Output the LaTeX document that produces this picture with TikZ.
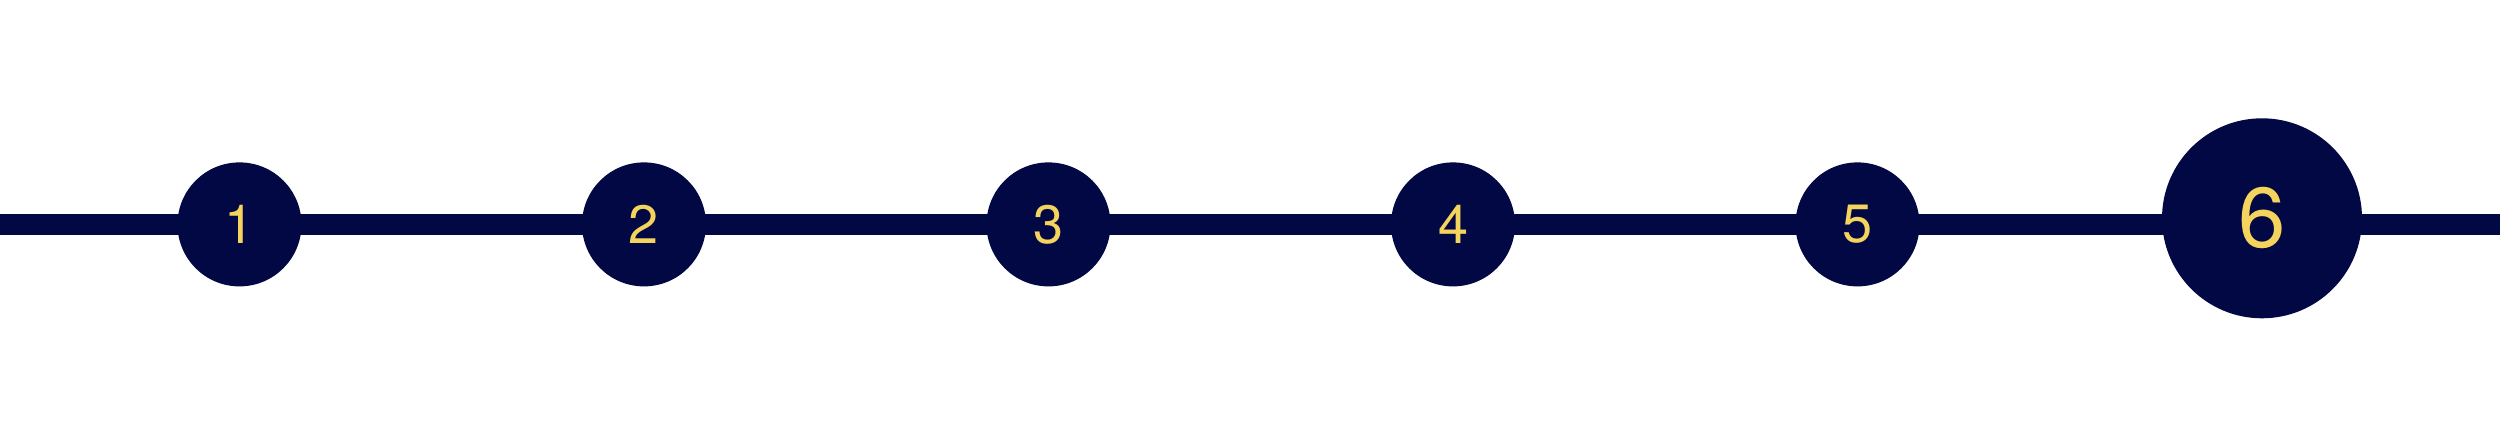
\documentclass[tikz,border=0pt]{standalone}
\usepackage{fontspec}
\setmainfont{TeX Gyre Heros}
\usetikzlibrary{backgrounds}
\definecolor{navy}{RGB}{1,8,68}
\definecolor{gold}{RGB}{245,212,94}
\begin{document}
\begin{tikzpicture}[x=1pt,y=1pt,
  stepdot/.style={circle,fill=navy,draw=none,inner sep=0pt,outer sep=0pt,
    minimum size=124pt,text=gold,font=\fontsize{54}{60}\selectfont},
  bigdot/.style={stepdot,minimum size=200pt,font=\fontsize{85}{96}\selectfont},
  track/.style={draw=navy,line width=20.3pt}]
\useasboundingbox (0,0) rectangle (2500,421);
\coordinate (L) at (0,196.6);
\coordinate (R) at (2500,196.6);
\node[stepdot] (c1) at (239.5,196.6) {1};
\node[stepdot] (c2) at (644,196.6) {2};
\node[stepdot] (c3) at (1048.5,196.6) {3};
\node[stepdot] (c4) at (1453,196.6) {4};
\node[stepdot] (c5) at (1857.5,196.6) {5};
\node[bigdot] (c6) at (2262,202.7) {6};
\begin{scope}[on background layer]
\fill[white] (0,0) rectangle (2500,421);
\draw[track] (L) -- (c1.center);
\draw[track] (c1.center) -- (c2.center);
\draw[track] (c2.center) -- (c3.center);
\draw[track] (c3.center) -- (c4.center);
\draw[track] (c4.center) -- (c5.center);
\draw[track] (c5.center) -- (c5 -| c6);
\draw[track] (c5 -| c6) -- (R);
\end{scope}
\end{tikzpicture}
\end{document}
